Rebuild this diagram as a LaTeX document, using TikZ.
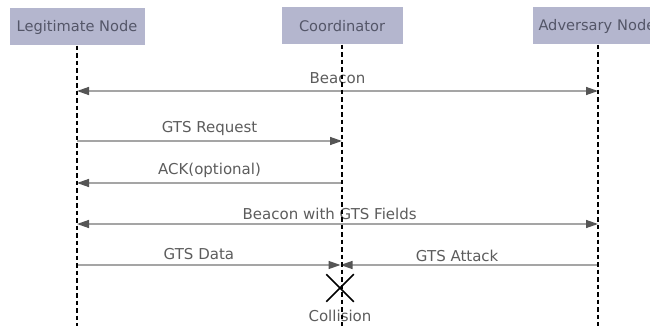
\documentclass[tikz,border=0pt]{standalone}
\usepackage{fontspec}
\setmainfont{DejaVu Sans}
\usepackage{xcolor}
\usepackage{tikz}
\usetikzlibrary{arrows.meta, positioning, shapes.misc}

\definecolor{boxfill}{RGB}{180,182,206}
\definecolor{boxtext}{RGB}{84,86,104}
\definecolor{msgline}{RGB}{165,165,165}
\definecolor{msgtip}{RGB}{85,85,85}
\definecolor{msgtext}{RGB}{92,92,92}

\begin{document}
\begin{tikzpicture}[x=1pt, y=-1pt,
    actor/.style={fill=boxfill, text=boxtext, minimum height=37pt, inner sep=0pt,
                  font=\fontsize{14.6}{17}\selectfont},
    lifeline/.style={black, line width=1.1pt, dash pattern=on 4.5pt off 3pt},
    msg/.style={msgline, line width=1.4pt},
    msglabel/.style={text=msgtext, font=\fontsize{15}{17}\selectfont},
    >={Triangle[length=12pt, width=8pt, color=msgtip]}]
      \useasboundingbox (0,0) rectangle (650,326);
      \clip (0,0) rectangle (650,326);

      % Draw the three participants
      \node[actor, minimum width=135pt] (legit) at (77,27) {Legitimate Node};
      \node[actor, minimum width=121pt] (coord) at (342,26) {Coordinator};
      \node[actor, minimum width=131pt, text width=119pt, align=left] (adv) at (598,26) {Adversary Node};

      % Mark the message points on each lifeline
      \foreach \m/\y in {beacon/91, req/141, ack/183, fields/224, data/265} {
        \coordinate (L\m) at (legit.south |- 0,\y);
        \coordinate (C\m) at (coord.south |- 0,\y);
        \coordinate (A\m) at (adv.south |- 0,\y);
      }

      % Draw the messages
      \draw[msg, <->] (Lbeacon) -- (Abeacon) node[msglabel, midway, above=3pt] {Beacon};
      \draw[msg, ->] (Lreq) -- (Creq) node[msglabel, midway, above=1pt] {GTS Request};
      \draw[msg, ->] (Cack) -- (Lack) node[msglabel, midway, above=1pt] {ACK(optional)};
      \draw[msg, <->] (Lfields) -- (Afields) node[msglabel, pos=0.485, above=0pt] {Beacon with GTS Fields};

      % Data and attack meet at the coordinator
      \draw[msg, ->, shorten >=1.5pt] (Ldata) -- (Cdata) node[msglabel, pos=0.46, above=1pt] {GTS Data};
      \draw[msg, ->, shorten >=-1.5pt] (Adata) -- (Cdata) node[msglabel, pos=0.55, above=-1pt] {GTS Attack};

      % Mark the collision
      \node[cross out, draw=black, line width=1.5pt, minimum size=26pt, inner sep=0pt] (hit) at (340,288) {};
      \node[msglabel, below=5pt of hit] (collision) {Collision};

      % Draw lifelines on top
      \draw[lifeline] (legit.south) -- (legit.south |- 0,326);
      \draw[lifeline] (coord.south) -- (coord.south |- 0,326);
      \draw[lifeline] (adv.south) -- (adv.south |- 0,326);

    \end{tikzpicture}
\end{document}
